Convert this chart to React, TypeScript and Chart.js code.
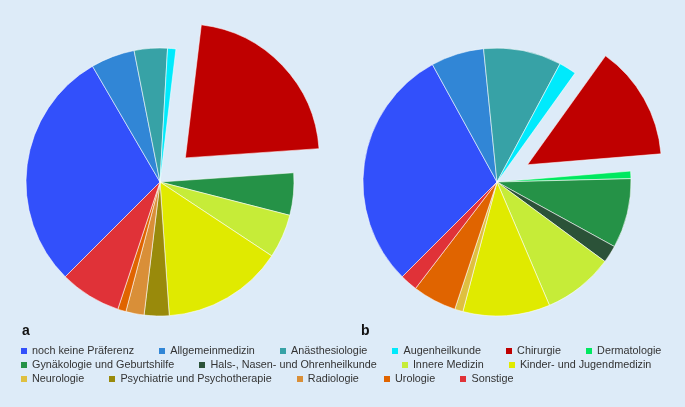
import React, { useEffect, useRef } from 'react';
import { Chart, registerables } from 'chart.js';

Chart.register(...registerables);

const categories = [
  'noch keine Präferenz',
  'Allgemeinmedizin',
  'Anästhesiologie',
  'Augenheilkunde',
  'Chirurgie',
  'Dermatologie',
  'Gynäkologie und Geburtshilfe',
  'Hals-, Nasen- und Ohrenheilkunde',
  'Innere Medizin',
  'Kinder- und Jugendmedizin',
  'Neurologie',
  'Psychiatrie und Psychotherapie',
  'Radiologie',
  'Urologie',
  'Sonstige',
];

const colors = [
  '#3250fb',
  '#3186d6',
  '#37a2a6',
  '#00eafc',
  '#bf0000',
  '#00e860',
  '#259247',
  '#2b5238',
  '#c6ec38',
  '#e0ea00',
  '#dfc040',
  '#998a0b',
  '#d98f38',
  '#e06400',
  '#e03238',
];

// percentages, panel a
const valuesA = [29.1, 5.3, 4.0, 1.0, 22.0, 0, 5.1, 0, 5.3, 14.6, 0, 3.0, 2.2, 1.0, 7.4];
// percentages, panel b
const valuesB = [29.5, 6.4, 9.4, 2.1, 13.8, 0.9, 8.4, 2.1, 8.5, 10.5, 1.0, 0, 0, 5.3, 2.1];

const panelLabels = ['a', 'b'];
const explodedCategory = 'Chirurgie';
const legendRows = [6, 4, 5];

const BG = '#ddebf8';
const FONT = "'Liberation Sans', Arial, Helvetica, sans-serif";
const EXPLODE_OFFSET = 140; // Chart.js translates arcs by offset / 4

// Keep the exploded slice at the same radius / angular span as the others
const keepRadiusPlugin = {
  id: 'keepRadius',
  afterDatasetsUpdate(chart: any) {
    const idx = categories.indexOf(explodedCategory);
    const meta = chart.getDatasetMeta(0);
    const arc = meta.data[idx];
    if (!arc) return;
    const circ = arc.circumference;
    const ro = (EXPLODE_OFFSET / 4) * (1 - Math.sin(Math.min(Math.PI, circ || 0)));
    const r = arc.outerRadius;
    arc.outerRadius = r - ro;
    const d = ro / (2 * Math.PI * r);
    arc.startAngle -= d;
    arc.endAngle += d;
  },
};

function Pie({ values, left, top, size }: { values: number[]; left: number; top: number; size: number }) {
  const ref = useRef<HTMLCanvasElement | null>(null);
  useEffect(() => {
    if (!ref.current) return;
    const explodeIdx = categories.indexOf(explodedCategory);
    const chart = new Chart(ref.current, {
      type: 'pie',
      data: {
        labels: categories,
        datasets: [
          {
            data: values,
            backgroundColor: colors,
            borderColor: 'rgba(255,255,255,0.55)',
            borderWidth: 1,
            offset: (ctx: any) => (ctx.dataIndex === explodeIdx ? EXPLODE_OFFSET : 0),
          } as any,
        ],
      },
      options: {
        responsive: false,
        maintainAspectRatio: false,
        animation: false,
        events: [],
        rotation: 225,
        radius: 134,
        layout: { padding: 0 },
        plugins: {
          legend: { display: false },
          tooltip: { enabled: false },
        },
      } as any,
      plugins: [keepRadiusPlugin],
    });
    return () => chart.destroy();
  }, [values]);
  return (
    <canvas
      ref={ref}
      width={size}
      height={size}
      style={{ position: 'absolute', left, top, width: size, height: size }}
    />
  );
}

export default function App() {
  let idx = 0;
  const rows = legendRows.map((n) => {
    const items = [] as number[];
    for (let i = 0; i < n; i++) items.push(idx++);
    return items;
  });
  return (
    <div
      style={{
        position: 'fixed',
        left: 0,
        top: 0,
        width: 685,
        height: 407,
        background: BG,
        overflow: 'hidden',
        fontFamily: FONT,
      }}
    >
      <Pie values={valuesA} left={-10} top={12} size={340} />
      <Pie values={valuesB} left={327} top={12} size={340} />
      {panelLabels.map((l, i) => (
        <div
          key={l}
          style={{
            position: 'absolute',
            left: i === 0 ? 22 : 361,
            top: 323,
            fontSize: 14,
            lineHeight: '14px',
            fontWeight: 'bold',
            color: '#111',
            fontFamily: "'Liberation Sans Narrow', 'Liberation Sans', Arial, sans-serif",
          }}
        >
          {l}
        </div>
      ))}
      <div style={{ position: 'absolute', left: 21, top: 343 }}>
        {rows.map((r, ri) => (
          <div key={ri} style={{ display: 'flex', columnGap: 25.2, height: 14.2, alignItems: 'center' }}>
            {r.map((ci) => (
              <div key={ci} style={{ display: 'flex', alignItems: 'center', whiteSpace: 'nowrap' }}>
                <span
                  style={{
                    display: 'inline-block',
                    width: 6,
                    height: 6,
                    background: colors[ci],
                    marginRight: 5,
                    marginTop: 1,
                  }}
                />
                <span style={{ fontSize: 10.8, lineHeight: '14px', color: '#333' }}>{categories[ci]}</span>
              </div>
            ))}
          </div>
        ))}
      </div>
    </div>
  );
}
